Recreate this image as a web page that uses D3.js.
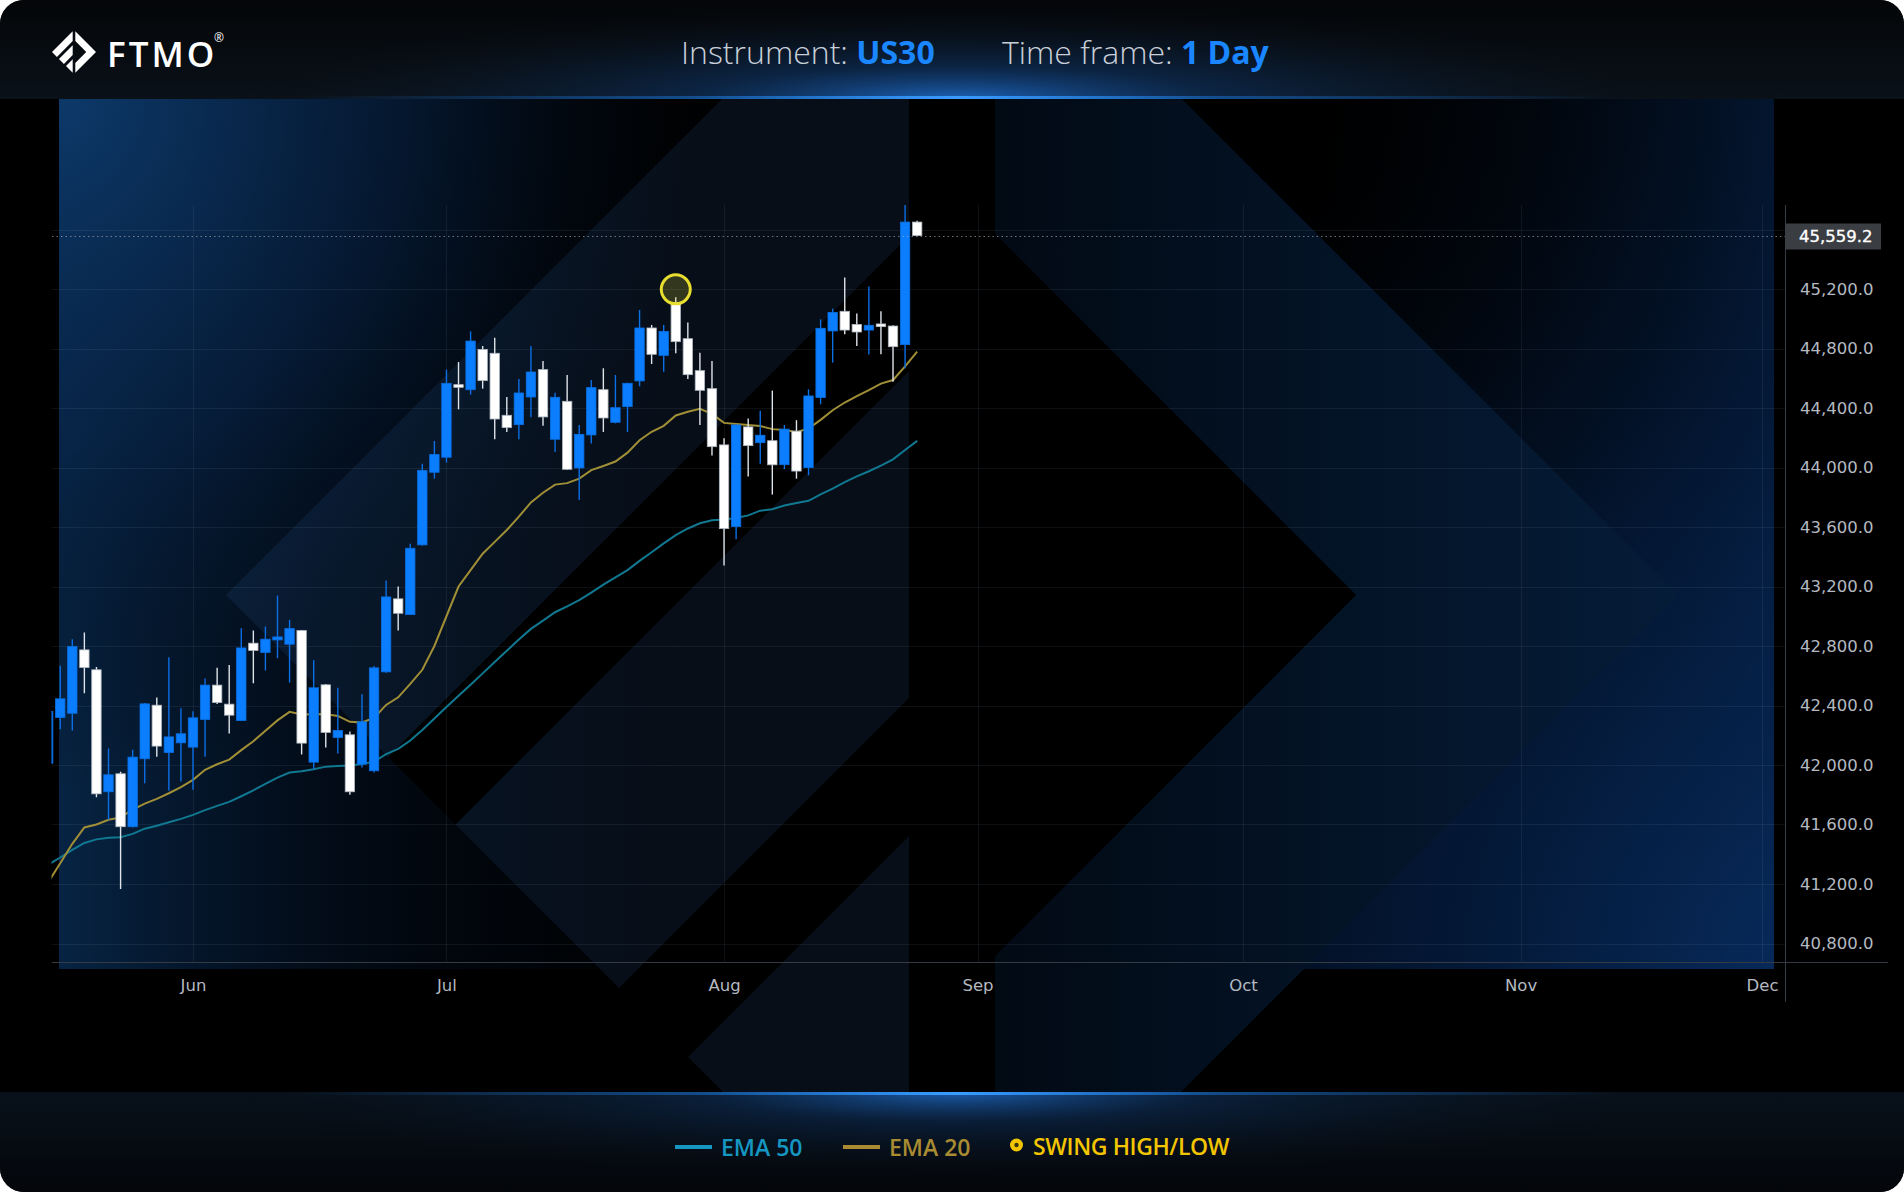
<!DOCTYPE html>
<html>
<head>
<meta charset="utf-8">
<title>US30 – 1 Day</title>
<script src="https://cdn.jsdelivr.net/npm/d3@7"></script>
<style>
  html, body { margin: 0; padding: 0; background: #ffffff; }
  svg { display: block; }
</style>
</head>
<body>
<svg id="chart" width="1904" height="1192"></svg>
<script>
// ---------------- data ----------------
const instrument = "US30";
const timeframe = "1 Day";
const firstDate = "2025-05-15";          // first daily bar (weekdays only)

const opens = [42012,42319,42348,42774,42640,41820,41941,41585,42042,42402,42084,42149,
  42120,42306,42537,42409,42299,42819,42756,42841,42812,42904,42019,42539,42185,42203,42006,41961,42626,43117,43011,43480,43968,
  44069,44557,44523,44794,44768,44351,44288,44474,44658,44190,44445,43997,44219,44523,44304,44409,44582,44938,44754,45108,44866,44651,44530,
  44152,43603,44273,44167,44180,44019,44244,43999,44470,44918,45050,44962,44924,44965,44951,44826,45650];
const highs = [42380,42667,42846,42891,42658,42111,41954,42102,42416,42454,42725,42382,
  42362,42581,42653,42673,42920,42904,42931,43139,42976,42908,42705,42545,42519,42225,42476,42666,43240,43200,43488,44025,44178,
  44658,44709,44915,44817,44873,44474,44595,44817,44716,44503,44622,44286,44588,44667,44622,44570,45059,44958,44958,45144,44974,44772,44716,
  44196,44290,44330,44381,44517,44286,44318,44526,44996,45068,45278,45036,45216,45050,44956,45764,45659];
const lows = [41990,42241,42232,42483,41784,41632,41166,41580,41878,42055,41827,41889,
  41833,42055,42410,42212,42295,42550,42635,42718,42554,42071,41972,42118,42077,41800,41983,41950,42620,42904,43008,43475,43925,
  44033,44391,44490,44530,44190,44239,44190,44337,44281,44105,43985,43782,44161,44239,44297,44239,44546,44696,44644,44768,44595,44286,44080,
  43341,43518,43939,44025,43818,43988,43925,43948,44425,44705,44895,44817,44759,44761,44577,44667,45555];
const closes = [42360,42445,42796,42655,41806,41934,41585,42053,42411,42127,42189,42210,
  42317,42537,42420,42335,42787,42770,42846,42861,42917,42147,42519,42219,42232,41820,42290,42653,43130,43020,43457,43980,44087,
  44566,44539,44850,44584,44326,44268,44501,44642,44340,44472,43988,44223,44537,44333,44402,44566,44938,44761,44915,44846,44624,44519,44140,
  43589,44286,44147,44217,44018,44258,43976,44481,44936,45043,44924,44911,44956,44947,44812,45650,45559.2];

const ema20 = [41210,41340,41470,41580,41600,41632,41648,41700,41740,41772,41810,41852,
  41900,41968,42005,42036,42100,42160,42230,42300,42357,42340,42342,42342,42330,42290,42286,42316,42404,42455,42545,42640,42800,
  43000,43200,43310,43420,43500,43580,43670,43765,43830,43885,43895,43925,43982,44010,44040,44100,44183,44240,44280,44350,44375,44394,44360,
  44300,44293,44285,44279,44258,44252,44238,44262,44320,44385,44437,44480,44520,44564,44588,44680,44779];
const ema50 = [41330,41378,41430,41476,41500,41511,41515,41537,41572,41592,41615,41638,
  41665,41697,41725,41752,41790,41830,41873,41915,41949,41958,41972,41989,41993,41997,42006,42023,42073,42108,42165,42236,42313,
  42390,42465,42540,42616,42692,42768,42844,42915,42971,43027,43067,43108,43159,43213,43262,43310,43372,43430,43490,43545,43590,43625,43645,
  43650,43660,43678,43710,43720,43745,43762,43776,43820,43858,43902,43940,43975,44013,44055,44118,44179];

const swingHighDates = ["2025-07-28"];

const monthLabels = ["Jun", "Jul", "Aug", "Sep", "Oct", "Nov", "Dec"];
const monthStarts = ["2025-06-02", "2025-07-01", "2025-08-01", "2025-09-01", "2025-10-01", "2025-11-03", "2025-12-01"];

const priceTicks = [40800, 41200, 41600, 42000, 42400, 42800, 43200, 43600, 44000, 44400, 44800, 45200];
const gridPrices = [40800, 41200, 41600, 42000, 42400, 42800, 43200, 43600, 44000, 44400, 44800, 45200, 45600];

// ---------------- helpers ----------------
const W = 1904, H = 1192;
const parse = d3.utcParse("%Y-%m-%d");
const isWeekday = d => d.getUTCDay() % 6 !== 0;
const t0 = parse(firstDate);
const barIndex = s => d3.utcDays(t0, parse(s)).filter(isWeekday).length;

const bars = opens.map((o, i) => ({
  i, open: o, high: highs[i], low: lows[i], close: closes[i], e20: ema20[i], e50: ema50[i]
}));

const x = d3.scaleLinear().domain([barIndex(monthStarts[0]), barIndex(monthStarts[6])]).range([193, 1762]);
const y = d3.scaleLinear().domain([40800, 45200]).range([943.5, 289]);

const PANEL = { x0: 59, x1: 1774, y0: 99, y1: 969 };
const PLOT = { x0: 52, x1: 1785, y0: 205, y1: 962 };
const AREA = { y0: 99, y1: 1092 };

const svg = d3.select("#chart");
const defs = svg.append("defs");

function linGrad(id, x1, y1, x2, y2, stops) {
  const g = defs.append("linearGradient").attr("id", id).attr("gradientUnits", "userSpaceOnUse")
    .attr("x1", x1).attr("y1", y1).attr("x2", x2).attr("y2", y2);
  stops.forEach(([o, c, a]) => g.append("stop").attr("offset", o).attr("stop-color", c).attr("stop-opacity", a));
}
function radGrad(id, cx, cy, r, stops, sy = 1) {
  const g = defs.append("radialGradient").attr("id", id).attr("gradientUnits", "userSpaceOnUse")
    .attr("cx", cx).attr("cy", cy).attr("r", r);
  if (sy !== 1) g.attr("gradientTransform", `translate(${cx},${cy}) scale(1,${sy}) translate(${-cx},${-cy})`);
  stops.forEach(([o, c, a]) => g.append("stop").attr("offset", o).attr("stop-color", c).attr("stop-opacity", a));
}

// FTMO mark: diamond split by a vertical gap; striped left half, chevron right half
const LG = 0.0592, RIN = 0.5565, C1 = -0.5537, C2 = -0.3678, C3 = 0.0826, C4 = 0.2727;
function logoParts(cx, cy, R) {
  const p = pts => pts.map(([a, b]) => [cx + a * R, cy + b * R]);
  const edge = c => [(c - 1) / 2, (c + 1) / 2];
  return {
    a1: p([[-1, 0], edge(C1), [-LG, C1 + LG], [-LG, -1 + LG]]),
    a2: p([edge(C2), edge(C3), [-LG, C3 + LG], [-LG, C2 + LG]]),
    b: p([edge(C4), [-LG, 1 - LG], [-LG, C4 + LG]]),
    gap1: p([edge(C1), edge(C2), [-LG, C2 + LG], [-LG, C1 + LG]]),
    gap2: p([edge(C3), edge(C4), [-LG, C4 + LG], [-LG, C3 + LG]]),
    chevron: p([[LG, -(1 - LG)], [1, 0], [LG, 1 - LG], [LG, RIN - LG], [RIN, 0], [LG, -(RIN - LG)]]),
    inner: p([[LG, -(RIN - LG)], [RIN, 0], [LG, RIN - LG]])
  };
}
const poly = pts => "M" + pts.map(p => p.join(",")).join("L") + "Z";

// ---------------- gradients & clips ----------------
defs.append("clipPath").attr("id", "card").append("rect").attr("width", W).attr("height", H).attr("rx", 24);
defs.append("clipPath").attr("id", "area").append("rect").attr("x", 0).attr("y", AREA.y0).attr("width", W).attr("height", AREA.y1 - AREA.y0);
defs.append("clipPath").attr("id", "plot").append("rect").attr("x", 51.5).attr("y", AREA.y0).attr("width", PLOT.x1 - 51.5).attr("height", PLOT.y1 - AREA.y0);

linGrad("hdr", 0, 0, 0, 99, [[0, "#040608", 1], [1, "#0a1119", 1]]);
radGrad("hdrGlow", 955, 99, 720, [[0, "#1f6fd0", 0.85], [0.35, "#0f3f7c", 0.45], [1, "#0a1119", 0]], 0.13);
linGrad("glowLine", 300, 0, 1610, 0, [[0, "#1f8bff", 0], [0.3, "#1c7fe8", 0.45], [0.5, "#3a9cff", 1], [0.7, "#1c7fe8", 0.45], [1, "#1f8bff", 0]]);
linGrad("ftr", 0, 1092, 0, 1192, [[0, "#08111b", 1], [1, "#04060a", 1]]);
radGrad("ftrGlow", 955, 1092, 720, [[0, "#1f6fd0", 0.8], [0.35, "#0d3466", 0.4], [1, "#08111b", 0]], 0.12);

linGrad("panelL", PANEL.x0, 0, 820, 0, [[0, "#072444", 1], [0.35, "#041327", 0.6], [1, "#000000", 0]]);
radGrad("panelTL", PANEL.x0, PANEL.y0, 700, [[0, "#0d3a6b", 0.95], [0.5, "#08254a", 0.5], [1, "#000000", 0]]);
radGrad("panelR", PANEL.x1, 960, 950, [[0, "#08326c", 1], [0.45, "#05204a", 0.65], [1, "#000000", 0]]);
linGrad("panelR2", 1250, 0, PANEL.x1, 0, [[0, "#000000", 0], [1, "#06234c", 0.6]]);
linGrad("band", 995, 0, 1678, 0, [[0, "#020a14", 1], [1, "#051c38", 1]]);

// ---------------- card ----------------
const card = svg.append("g").attr("clip-path", "url(#card)");
card.append("rect").attr("width", W).attr("height", H).attr("fill", "#000");

// header
card.append("rect").attr("width", W).attr("height", 99).attr("fill", "url(#hdr)");
card.append("rect").attr("width", W).attr("height", 99).attr("fill", "url(#hdrGlow)");

// footer
card.append("rect").attr("y", AREA.y1).attr("width", W).attr("height", H - AREA.y1).attr("fill", "url(#ftr)");
card.append("rect").attr("y", AREA.y1).attr("width", W).attr("height", H - AREA.y1).attr("fill", "url(#ftrGlow)");

// ---------------- chart backdrop ----------------
const area = card.append("g").attr("clip-path", "url(#area)");
["panelL", "panelTL", "panelR", "panelR2"].forEach(id =>
  area.append("rect").attr("x", PANEL.x0).attr("y", PANEL.y0)
    .attr("width", PANEL.x1 - PANEL.x0).attr("height", PANEL.y1 - PANEL.y0).attr("fill", `url(#${id})`));

const big = logoParts(952, 595, 726);
area.append("rect").attr("x", 952 - LG * 726).attr("y", AREA.y0).attr("width", 2 * LG * 726)
  .attr("height", AREA.y1 - AREA.y0).attr("fill", "#000");
area.append("path").attr("d", poly(big.gap1)).attr("fill", "#000");
area.append("path").attr("d", poly(big.gap2)).attr("fill", "#000");
area.append("path").attr("d", poly(big.chevron)).attr("fill", "url(#band)");
area.append("path").attr("d", poly(big.inner)).attr("fill", "#000");

// header / footer glow lines
card.append("rect").attr("x", 0).attr("y", 96).attr("width", W).attr("height", 3).attr("fill", "url(#glowLine)");
card.append("rect").attr("x", 0).attr("y", AREA.y1).attr("width", W).attr("height", 3).attr("fill", "url(#glowLine)");

// ---------------- grid & axes ----------------
const grid = card.append("g");
grid.selectAll("line.h").data(gridPrices).join("line")
  .attr("x1", PLOT.x0).attr("x2", PLOT.x1)
  .attr("y1", d => Math.round(y(d)) + 0.5).attr("y2", d => Math.round(y(d)) + 0.5)
  .attr("stroke", "#8ea2bf").attr("stroke-opacity", 0.1);
const monthIdx = monthStarts.map(barIndex);
grid.selectAll("line.v").data(monthIdx).join("line")
  .attr("x1", d => Math.round(x(d)) + 0.5).attr("x2", d => Math.round(x(d)) + 0.5)
  .attr("y1", PLOT.y0).attr("y2", PLOT.y1)
  .attr("stroke", "#8ea2bf").attr("stroke-opacity", 0.1);

card.append("line").attr("x1", PLOT.x0).attr("x2", 1888).attr("y1", PLOT.y1 + 0.5).attr("y2", PLOT.y1 + 0.5)
  .attr("stroke", "#353b44").attr("stroke-width", 1);
card.append("line").attr("x1", PLOT.x1 + 0.5).attr("x2", PLOT.x1 + 0.5).attr("y1", PLOT.y0).attr("y2", 1002)
  .attr("stroke", "#353b44").attr("stroke-width", 1);

const axisFont = "'DejaVu Sans', Verdana, sans-serif";
const yAxis = card.append("g").attr("transform", `translate(${PLOT.x1},0)`)
  .call(d3.axisRight(y).tickValues(priceTicks).tickFormat(d3.format(",.1f")).tickSize(0).tickPadding(15));
const xAxis = card.append("g").attr("transform", `translate(0,${PLOT.y1})`)
  .call(d3.axisBottom(x).tickValues(monthIdx).tickFormat((d, k) => monthLabels[k]).tickSize(0).tickPadding(17));
[yAxis, xAxis].forEach(g => {
  g.select(".domain").remove();
  g.selectAll("text").attr("fill", "#b4b9c1").style("font-family", axisFont).style("font-size", "16.5px");
});

// ---------------- candles & EMAs ----------------
const plot = card.append("g").attr("clip-path", "url(#plot)");
const line = key => d3.line().x(d => x(d.i)).y(d => y(d[key]));
plot.append("path").datum(bars).attr("d", line("e50")).attr("fill", "none")
  .attr("stroke", "#117891").attr("stroke-width", 2);
plot.append("path").datum(bars).attr("d", line("e20")).attr("fill", "none")
  .attr("stroke", "#a08f36").attr("stroke-width", 2);

const bodyW = 9.4;
const cg = plot.selectAll("g.candle").data(bars).join("g");
cg.append("line")
  .attr("x1", d => x(d.i)).attr("x2", d => x(d.i))
  .attr("y1", d => y(d.high)).attr("y2", d => y(d.low))
  .attr("stroke", d => d.close >= d.open ? "#0b6fe6" : "#dfe4ea").attr("stroke-width", 1.4);
cg.append("rect")
  .attr("x", d => x(d.i) - bodyW / 2)
  .attr("y", d => y(Math.max(d.open, d.close)))
  .attr("width", bodyW)
  .attr("height", d => Math.max(1.5, Math.abs(y(d.open) - y(d.close))))
  .attr("fill", d => d.close >= d.open ? "#0b7dff" : "#ffffff")
  .attr("stroke", d => d.close >= d.open ? "#0a6fe0" : "#aeb6bf")
  .attr("stroke-width", 0.8);

// big mark's light stripes tint whatever lies beneath
const tint = area.append("g");
[big.a1, big.a2, big.b].forEach(pts =>
  tint.append("path").attr("d", poly(pts)).attr("fill", "#4c98ff").attr("fill-opacity", 0.09));

// swing high marker
const swings = swingHighDates.map(s => bars[barIndex(s)]);
card.selectAll("circle.swing").data(swings).join("circle")
  .attr("cx", d => x(d.i)).attr("cy", d => y(d.high) - 8).attr("r", 14.5)
  .attr("fill", "#e8de2f").attr("fill-opacity", 0.2)
  .attr("stroke", "#e8de2f").attr("stroke-width", 3);

// last price line and label
const last = bars[bars.length - 1];
const ly = Math.round(y(last.close)) + 0.5;
card.append("line").attr("x1", PLOT.x0).attr("x2", PLOT.x1).attr("y1", ly).attr("y2", ly)
  .attr("stroke", "#9aa1aa").attr("stroke-opacity", 0.7).attr("stroke-dasharray", "1.5,3");
card.append("rect").attr("x", PLOT.x1).attr("y", ly - 13).attr("width", 96).attr("height", 26).attr("fill", "#3a3d42");
card.append("text").attr("x", 1799).attr("y", ly).attr("dy", "0.35em")
  .attr("fill", "#ffffff").style("font-family", axisFont).style("font-size", "16.5px")
  .style("stroke", "#ffffff").style("stroke-width", 0.35)
  .text(d3.format(",.1f")(last.close));

// ---------------- header content ----------------
const icon = logoParts(74, 52, 22);
const ig = card.append("g").attr("fill", "#ffffff");
[icon.a1, icon.a2, icon.b, icon.chevron].forEach(pts => ig.append("path").attr("d", poly(pts)));
card.append("text").attr("x", 107).attr("y", 67).text("FTMO")
  .attr("fill", "#ffffff").style("font-family", "'Open Sans', sans-serif").style("font-size", "35px")
  .style("font-weight", 600).style("letter-spacing", "3px");
card.append("text").attr("x", 214).attr("y", 42).text("®")
  .attr("fill", "#ffffff").style("font-family", "'Open Sans', sans-serif").style("font-size", "12px");

const titleFont = "'Open Sans', sans-serif";
function titlePair(x0, label, value) {
  const t = card.append("text").attr("x", x0).attr("y", 64)
    .style("font-family", titleFont).style("font-size", "32px");
  t.append("tspan").text(label + " ").attr("fill", "#c8cfd9").style("font-weight", 300);
  t.append("tspan").text(value).attr("fill", "#1a86ff").style("font-weight", 700);
}
titlePair(681, "Instrument:", instrument);
titlePair(1002, "Time frame:", timeframe);

// ---------------- legend ----------------
const legendFont = "'Open Sans', sans-serif";
const lg = card.append("g").style("font-family", legendFont).style("font-size", "23px").style("font-weight", 600);
lg.append("rect").attr("x", 675).attr("y", 1145).attr("width", 37).attr("height", 4).attr("fill", "#1597c2");
lg.append("text").attr("x", 721).attr("y", 1156).attr("fill", "#1597c2").text("EMA 50");
lg.append("rect").attr("x", 843).attr("y", 1145).attr("width", 37).attr("height", 4).attr("fill", "#a98b32");
lg.append("text").attr("x", 889).attr("y", 1156).attr("fill", "#a98b32").text("EMA 20");
lg.append("circle").attr("cx", 1016.5).attr("cy", 1145).attr("r", 6.5).attr("fill", "#f2c500");
lg.append("circle").attr("cx", 1016.5).attr("cy", 1145).attr("r", 2.2).attr("fill", "#3d3406");
lg.append("text").attr("x", 1033).attr("y", 1155).attr("fill", "#f2c500").style("letter-spacing", "-0.4px").text("SWING HIGH/LOW");
</script>
</body>
</html>
